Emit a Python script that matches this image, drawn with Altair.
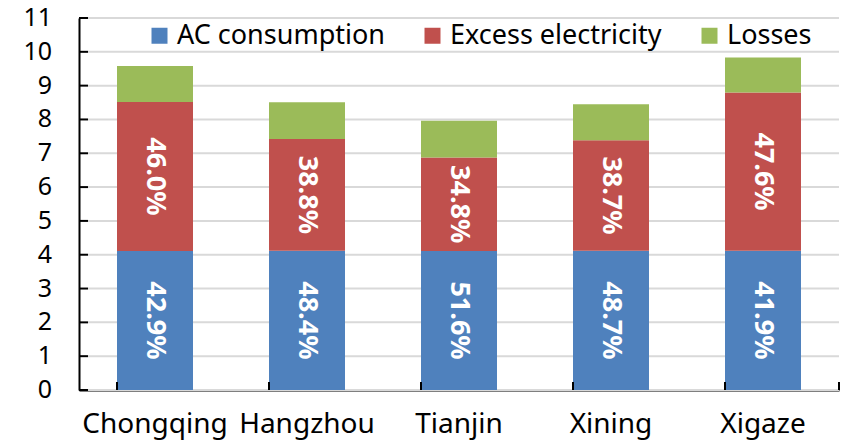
import altair as alt
import pandas as pd

# Energy breakdown per city (kWh units on the y axis)
cities = ["Chongqing", "Hangzhou", "Tianjin", "Xining", "Xigaze"]
totals = [9.58, 8.51, 7.96, 8.45, 9.83]
ac_share = [42.9, 48.4, 51.6, 48.7, 41.9]
excess_share = [46.0, 38.8, 34.8, 38.7, 47.6]

series = ["AC consumption", "Excess electricity", "Losses"]
colors = ["#4F81BD", "#C0504D", "#9BBB59"]
y_ticks = list(range(0, 12))

FONT = "Noto Sans"

rows = []
for city, total, a_pct, e_pct in zip(cities, totals, ac_share, excess_share):
    ac = total * a_pct / 100
    ex = total * e_pct / 100
    loss = total - ac - ex
    rows.append(dict(city=city, series=series[0], order=0, value=ac,
                     mid=ac / 2, label=f"{a_pct:.1f}%"))
    rows.append(dict(city=city, series=series[1], order=1, value=ex,
                     mid=ac + ex / 2, label=f"{e_pct:.1f}%"))
    rows.append(dict(city=city, series=series[2], order=2, value=loss,
                     mid=ac + ex + loss / 2, label=""))
df = pd.DataFrame(rows)
ticks_df = pd.DataFrame({"v": y_ticks, "txt": [str(t) for t in y_ticks]})

y_scale = alt.Scale(domain=[0, 11], nice=False, zero=True)
# value axis: only the black domain line; ticks, labels and grid drawn as layers
y_axis = alt.Axis(title=None, labels=False, ticks=False, grid=False,
                  domainColor="black", domainWidth=2)
x_scale = alt.Scale(paddingInner=0.5, paddingOuter=0.25)
x_axis = alt.Axis(title=None, labelAngle=0, labelFontSize=28, labelFont=FONT,
                  labelColor="black", labelPadding=20, ticks=False,
                  domainColor="black", domainWidth=2, grid=False)

grid = alt.Chart(ticks_df).mark_rule(color="#D9D9D9", strokeWidth=2).encode(
    y=alt.Y("v:Q", scale=y_scale, axis=y_axis),
    x=alt.value(9), x2=alt.value(760),
)

y_labels = alt.Chart(ticks_df).mark_text(
    align="right", baseline="middle", fontSize=25, font=FONT, color="black"
).encode(
    y=alt.Y("v:Q", scale=y_scale, axis=y_axis),
    x=alt.value(-27),
    text="txt:N",
)

bars = alt.Chart(df).mark_bar().encode(
    x=alt.X("city:N", sort=cities, scale=x_scale, axis=x_axis),
    y=alt.Y("value:Q", stack="zero", scale=y_scale, axis=y_axis),
    color=alt.Color(
        "series:N",
        scale=alt.Scale(domain=series, range=colors),
        legend=alt.Legend(title=None, orient="none", legendX=67, legendY=4,
                          direction="horizontal", symbolType="square",
                          symbolSize=256, symbolStrokeWidth=0,
                          labelFontSize=27, labelFont=FONT, labelColor="black",
                          labelOffset=4, labelLimit=0, columnPadding=34,
                          padding=0),
    ),
    order=alt.Order("order:Q", sort="ascending"),
)

labels = alt.Chart(df[df["label"] != ""]).mark_text(
    angle=90, color="white", fontWeight="bold", fontSize=27, font=FONT,
    align="center", baseline="middle",
).encode(
    x=alt.X("city:N", sort=cities, scale=x_scale, axis=x_axis),
    y=alt.Y("mid:Q", scale=y_scale, axis=y_axis),
    text="label:N",
)

# inward tick marks on the value axis
y_tick_marks = alt.Chart(ticks_df).mark_rule(color="black", strokeWidth=2).encode(
    y=alt.Y("v:Q", scale=y_scale, axis=y_axis), x=alt.value(0), x2=alt.value(9)
)

# category separators rising from the baseline
x_tick_marks = alt.Chart(pd.DataFrame({"city": cities})).mark_rule(
    color="black", strokeWidth=2
).encode(
    x=alt.X("city:N", sort=cities, bandPosition=0, scale=x_scale, axis=x_axis),
    y=alt.value(372), y2=alt.value(364),
)
x_end_tick = alt.Chart(pd.DataFrame({"city": [cities[-1]]})).mark_rule(
    color="black", strokeWidth=2
).encode(x=alt.value(760), y=alt.value(372), y2=alt.value(364))

chart = alt.layer(
    grid, bars, labels, y_tick_marks, y_labels, x_tick_marks, x_end_tick
).properties(
    width=760, height=372,
    autosize=alt.AutoSizeParams(type="none"),
    padding={"left": 79, "top": 18, "right": 7, "bottom": 55},
).configure_view(stroke=None)

chart.save("out.html", embed_options={"renderer": "svg", "actions": False})
